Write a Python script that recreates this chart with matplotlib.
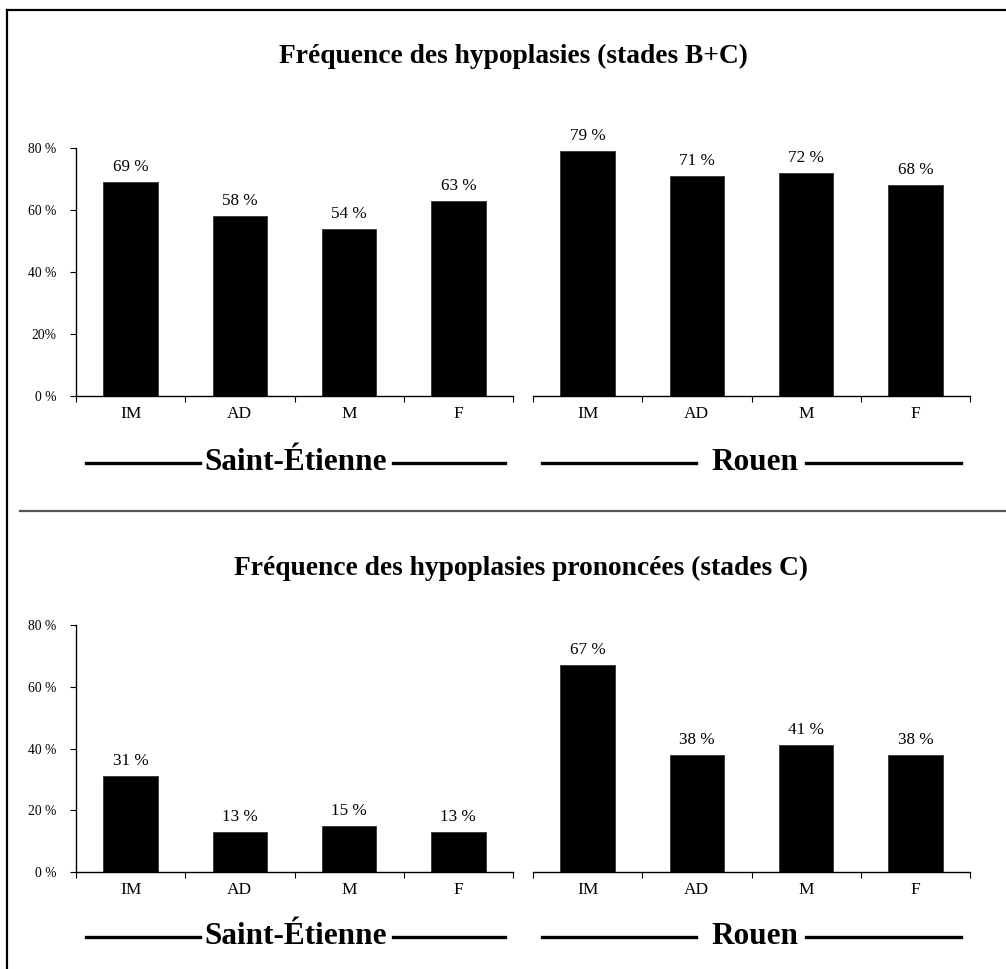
import numpy as np
import matplotlib
matplotlib.use("Agg")
import matplotlib.pyplot as plt
from matplotlib.lines import Line2D

plt.rcParams['font.family'] = ['Liberation Serif', 'DejaVu Serif']

W, H = 1006, 969

categories = ["IM", "AD", "M", "F"]
sites = ["Saint-Étienne", "Rouen"]

# frequencies (%) - stades B+C
bc_saint_etienne = [69, 58, 54, 63]
bc_rouen = [79, 71, 72, 68]
# frequencies (%) - stades C
c_saint_etienne = [31, 13, 15, 13]
c_rouen = [67, 38, 41, 38]

titles = ["Fréquence des hypoplasies (stades B+C)",
          "Fréquence des hypoplasies prononcées (stades C)"]
yticks = [0, 20, 40, 60, 80]
ytick_labels_top = ["0 %", "20%", "40 %", "60 %", "80 %"]
ytick_labels_bottom = ["0 %", "20 %", "40 %", "60 %", "80 %"]


def fx(px):
    return px / W


def fy(py):
    return 1 - py / H


def panel_axes(x0, x1, y_zero, y_top):
    return fig.add_axes([fx(x0), fy(y_zero), fx(x1 - x0), (y_zero - y_top) / H])


def draw_group(ax, values, show_y, ylabels):
    x = np.arange(len(categories))
    ax.bar(x, values, width=0.5, color='black', edgecolor='#333333', linewidth=0.6)
    for xi, v in zip(x, values):
        ax.annotate(f"{v} %", (xi, v), xytext=(0, 5), textcoords='offset points',
                    ha='center', va='bottom', fontsize=12.3)
    ax.set_xlim(-0.5, len(categories) - 0.5)
    ax.set_ylim(0, 80)
    ax.set_xticks(x)
    ax.set_xticklabels(categories, fontsize=12.5)
    ax.set_xticks(np.arange(len(categories) + 1) - 0.5, minor=True)
    ax.tick_params(axis='x', which='major', length=0, pad=7)
    ax.tick_params(axis='x', which='minor', length=4, width=0.8, direction='out')
    for s in ['top', 'right']:
        ax.spines[s].set_visible(False)
    ax.spines['bottom'].set_linewidth(1)
    if show_y:
        ax.set_yticks(yticks)
        ax.set_yticklabels(ylabels, fontsize=9.8)
        ax.tick_params(axis='y', length=4, width=0.8, pad=10)
        ax.spines['left'].set_linewidth(1)
    else:
        ax.spines['left'].set_visible(False)
        ax.set_yticks([])


def site_label(xc, y, text, x_left, x_left_end, x_right_start, x_right):
    fig.text(fx(xc), fy(y), text, ha='center', va='center',
             fontsize=22.5, fontweight='bold')
    fig.add_artist(Line2D([fx(x_left), fx(x_left_end)], [fy(y), fy(y)],
                          color='black', lw=2.4))
    fig.add_artist(Line2D([fx(x_right_start), fx(x_right)], [fy(y), fy(y)],
                          color='black', lw=2.4))


fig = plt.figure(figsize=(W / 100, H / 100), dpi=100)

# top panel
ax1 = panel_axes(76, 513, 396, 148)
draw_group(ax1, bc_saint_etienne, True, ytick_labels_top)
ax2 = panel_axes(533, 970, 396, 148)
draw_group(ax2, bc_rouen, False, None)
fig.text(fx(513), fy(56), titles[0], ha='center', va='center',
         fontsize=19.8, fontweight='bold')
site_label(296, 463, sites[0], 86, 200, 393, 505)
site_label(755, 463, sites[1], 542, 696, 806, 961)

# bottom panel
ax3 = panel_axes(76, 513, 872, 625)
draw_group(ax3, c_saint_etienne, True, ytick_labels_bottom)
ax4 = panel_axes(533, 970, 872, 625)
draw_group(ax4, c_rouen, False, None)
fig.text(fx(521), fy(568), titles[1], ha='center', va='center',
         fontsize=19.8, fontweight='bold')
site_label(296, 937, sites[0], 86, 200, 393, 505)
site_label(755, 937, sites[1], 542, 696, 806, 961)

# frame and separator
fig.add_artist(Line2D([fx(7), fx(7)], [fy(10), 0], color='black', lw=1.6))
fig.add_artist(Line2D([fx(7), 1], [fy(10), fy(10)], color='black', lw=1.6))
fig.add_artist(Line2D([fx(20), 1], [fy(511), fy(511)], color='#555555', lw=1.6))

fig.savefig("out.png", dpi=100)
